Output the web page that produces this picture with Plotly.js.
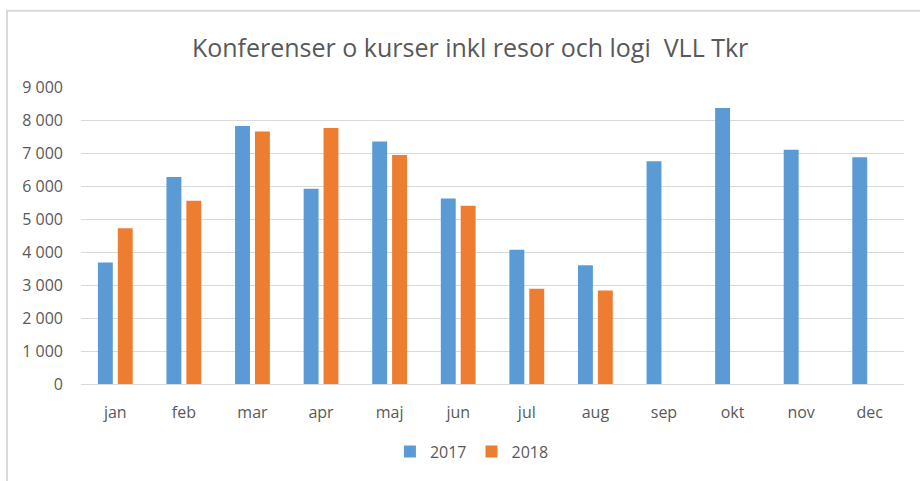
<!DOCTYPE html>
<html>
<head>
<meta charset="utf-8">
<script src="https://cdn.plot.ly/plotly-3.0.1.min.js"></script>
<style>html,body{margin:0;padding:0;background:#fff;}#chart{width:920px;height:481px;}</style>
</head>
<body>
<div id="chart"></div>
<script>
const months = ["jan","feb","mar","apr","maj","jun","jul","aug","sep","okt","nov","dec"];
const values2017 = [3680, 6270, 7820, 5920, 7350, 5620, 4070, 3600, 6750, 8360, 7100, 6870];
const values2018 = [4720, 5550, 7650, 7760, 6940, 5400, 2890, 2830, null, null, null, null];
const yTickVals = [0, 1000, 2000, 3000, 4000, 5000, 6000, 7000, 8000, 9000];
const yTickText = ["0", "1 000", "2 000", "3 000", "4 000", "5 000", "6 000", "7 000", "8 000", "9 000"];
const chartTitle = "Konferenser o kurser inkl resor och logi  VLL Tkr";

const font = "Open Sans, Noto Sans, sans-serif";
const data = [
  {type: "bar", name: "2017", x: months, y: values2017, marker: {color: "#5B9BD5"}},
  {type: "bar", name: "2018", x: months, y: values2018, marker: {color: "#ED7D31"}}
];
const layout = {
  width: 920, height: 481,
  margin: {l: 81, r: 16, t: 87, b: 94},
  paper_bgcolor: "#ffffff", plot_bgcolor: "#ffffff",
  title: {text: chartTitle, x: 0.511, xanchor: "center", y: 0.9, yanchor: "middle",
          font: {family: font, size: 25, color: "#595959"}},
  barmode: "group", bargap: 0.42, bargroupgap: 0.25,
  showlegend: true,
  legend: {orientation: "h", x: 0.475, xanchor: "center", y: -0.17, yanchor: "top",
           itemwidth: 30, font: {family: font, size: 16, color: "#595959"}},
  xaxis: {showgrid: false, showline: true, linecolor: "#D9D9D9", linewidth: 1,
          tickfont: {family: font, size: 16, color: "#595959"}, ticks: "", ticklabelstandoff: 14},
  yaxis: {range: [0, 9000], tickvals: yTickVals, ticktext: yTickText, showgrid: true,
          gridcolor: "#D9D9D9", gridwidth: 1, zeroline: false, showline: false,
          tickfont: {family: font, size: 16, color: "#595959"}, ticks: "", ticklabelstandoff: 17},
  shapes: [
    {type: "rect", xref: "paper", yref: "paper", x0: -0.0899, x1: 1.05, y0: -0.35, y1: 1.2567,
     line: {color: "#D9D9D9", width: 2}, fillcolor: "rgba(0,0,0,0)", layer: "below"}
  ]
};
Plotly.newPlot("chart", data, layout, {displayModeBar: false, staticPlot: true});
</script>
</body>
</html>
